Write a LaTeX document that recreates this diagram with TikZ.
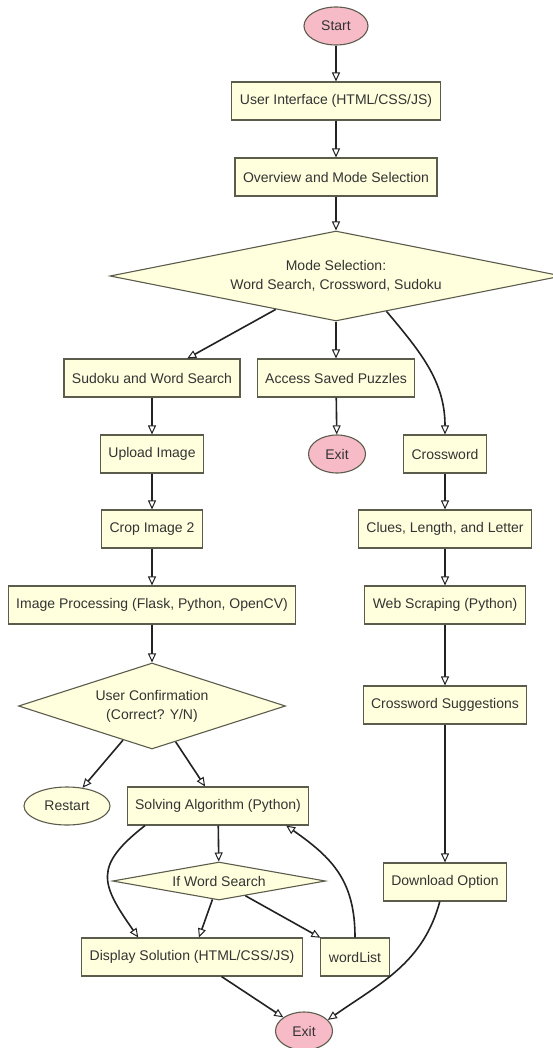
\documentclass[tikz,border=0pt]{standalone}
\usepackage{fontspec}
\setmainfont{Liberation Sans}
\usetikzlibrary{shapes.geometric,arrows.meta}
\definecolor{boxfill}{HTML}{FFFFDE}
\definecolor{boxline}{HTML}{5C5C4C}
\definecolor{termfill}{HTML}{F7BBC8}
\definecolor{flowline}{HTML}{222222}
\definecolor{txt}{HTML}{333333}

\begin{document}
\begin{tikzpicture}[x=1pt,y=-1pt,
    every node/.style={font=\fontsize{14}{19}\selectfont,text=txt,draw=boxline,line width=1.1pt,fill=boxfill},
    proc/.style={rectangle,minimum height=38pt,inner xsep=8pt},
    term/.style={ellipse,inner sep=0pt,fill=termfill,minimum width=57pt,minimum height=38pt},
    choice/.style={diamond,inner sep=0pt,align=center},
    flow/.style={draw=flowline,line width=1.6pt,-{Triangle[length=9pt,width=8pt,fill=white,line width=1pt]}}]
        \useasboundingbox (0,0) rectangle (553,1048);
        % top
        \node[term,minimum width=64pt] (start) at (336,26) {Start};
        \node[proc] (ui) at (336,101) {User Interface (HTML/CSS/JS)};
        \node[proc] (overview) at (336,177) {Overview and Mode Selection};
        \node[choice,shape aspect=5,minimum width=452pt,minimum height=90pt] (mode) at (336,276) {Mode Selection:\\Word Search, Crossword, Sudoku};
        \node[proc] (saved) at (336,378) {Access Saved Puzzles};
        \node[term] (exitA) at (337,454) {Exit};
        % left column
        \node[proc] (sudoku) at (152,378) {Sudoku and Word Search};
        \node[proc] (upload) at (152,454) {Upload Image};
        \node[proc] (crop) at (152,529) {Crop Image 2};
        \node[proc] (improc) at (152,605) {Image Processing (Flask, Python, OpenCV)};
        \node[choice,shape aspect=2.9,minimum width=267pt,minimum height=86pt] (confirm) at (152,706) {User Confirmation\\(Correct? Y/N)};
        \node[term,fill=boxfill,minimum width=86pt] (restart) at (67,806) {Restart};
        \node[proc] (solve) at (218,806) {Solving Algorithm (Python)};
        \node[choice,shape aspect=5.5,minimum width=213pt,minimum height=38pt] (ifws) at (219,881) {If Word Search};
        \node[proc] (display) at (192,957) {Display Solution (HTML/CSS/JS)};
        \node[proc] (wordlist) at (355,957) {wordList};
        \node[term] (exitB) at (304,1031) {Exit};
        % right column
        \node[proc] (crossword) at (445,454) {Crossword};
        \node[proc] (clues) at (445,529) {Clues, Length, and Letter};
        \node[proc] (webscr) at (445,605) {Web Scraping (Python)};
        \node[proc] (suggest) at (445,705) {Crossword Suggestions};
        \node[proc] (download) at (445,882) {Download Option};
        % arrows
        \draw[flow] (start) -- (ui);
        \draw[flow] (ui) -- (overview);
        \draw[flow] (overview) -- (mode);
        \draw[flow] (mode) -- (sudoku);
        \draw[flow] (mode) -- (saved);
        \draw[flow] (mode.-35) to[out=-50,in=90] (crossword.north);
        \draw[flow] (saved) -- (exitA);
        \draw[flow] (sudoku) -- (upload);
        \draw[flow] (upload) -- (crop);
        \draw[flow] (crop) -- (improc);
        \draw[flow] (improc) -- (confirm);
        \draw[flow] (confirm) -- (restart);
        \draw[flow] (confirm) -- (solve);
        \draw[flow] (solve) -- (ifws);
        \draw[flow] (solve.195) to[out=218,in=125,looseness=1.5] (display.160);
        \draw[flow] (ifws) -- (display);
        \draw[flow] (ifws) -- (wordlist);
        \draw[flow] (wordlist.north) to[out=90,in=-35,looseness=1.1] (solve.-16);
        \draw[flow] (display) -- (exitB);
        \draw[flow] (crossword) -- (clues);
        \draw[flow] (clues) -- (webscr);
        \draw[flow] (webscr) -- (suggest);
        \draw[flow] (suggest) -- (download);
        \draw[flow] (download.-105) to[out=-105,in=35] (exitB.25);
\end{tikzpicture}
\end{document}
